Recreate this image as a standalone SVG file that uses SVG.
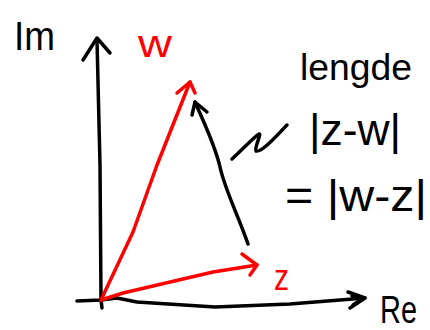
<svg xmlns="http://www.w3.org/2000/svg" width="430" height="330" viewBox="0 0 430 330">
  <style>
    .ink { fill: none; stroke: #000; stroke-width: 3.5; stroke-linecap: round; stroke-linejoin: round; }
    .red { fill: none; stroke: #f00; stroke-width: 3.5; stroke-linecap: round; stroke-linejoin: round; }
    .t { font-family: "Liberation Sans", "DejaVu Sans", sans-serif; fill: #000; }
    .tr { font-family: "Liberation Sans", "DejaVu Sans", sans-serif; fill: #f00; }
  </style>
  <rect width="430" height="330" fill="#fff"/>
  <g id="connectors">
    <g id="im-axis">
      <path class="ink" d="M102,308 L101,300 L100,165 L97,40"/>
      <path class="ink" d="M83,60 L97,38 L110,53"/>
    </g>
    <g id="re-axis">
      <path class="ink" d="M77,301 L101,300 L117,298 L137,302 L215,307 L290,304 L365,298"/>
      <path class="ink" d="M348,292 L365,298 L350,308 M352,296 L362,299 L353,305"/>
    </g>
    <g id="vector-w">
      <path class="red" d="M101,300 L133,232 L157,165 L190,82"/>
      <path class="red" d="M177,93 L190,82 L195,93"/>
    </g>
    <g id="vector-z">
      <path class="red" d="M101,300 L123,293 L213,272 L257,265"/>
      <path class="red" d="M242,254 L257,265 L250,275"/>
    </g>
    <g id="vector-z-minus-w">
      <path class="ink" d="M248,244 C238,215 225,190 220,167 C215,145 205,125 195,102"/>
      <path class="ink" d="M192,115 L195,102 L207,112"/>
    </g>
    <g id="squiggle">
      <path class="ink" d="M232,159 C242,150 255,136 259,134 C262,133 254,148 256,151 C262,153 278,134 287,125"/>
    </g>
  </g>
  <g id="label-im"><text class="t" x="14" y="50" font-size="40" textLength="41" lengthAdjust="spacingAndGlyphs">Im</text></g>
  <g id="label-re"><text class="t" x="380" y="323" font-size="38" textLength="37" lengthAdjust="spacingAndGlyphs">Re</text></g>
  <g id="label-w"><text class="tr" x="138" y="57" font-size="38" textLength="34" lengthAdjust="spacingAndGlyphs">w</text></g>
  <g id="label-z"><text class="tr" x="274" y="290" font-size="36" textLength="15" lengthAdjust="spacingAndGlyphs">z</text></g>
  <g id="label-lengde"><text class="t" x="300" y="80" font-size="36" textLength="112" lengthAdjust="spacingAndGlyphs">lengde</text></g>
  <g id="label-zw"><text class="t" x="309" y="145" font-size="44" textLength="92" lengthAdjust="spacingAndGlyphs">|z-w|</text></g>
  <g id="label-wz"><text class="t" x="285" y="211" font-size="44" textLength="142" lengthAdjust="spacingAndGlyphs">= |w-z|</text></g>
</svg>
